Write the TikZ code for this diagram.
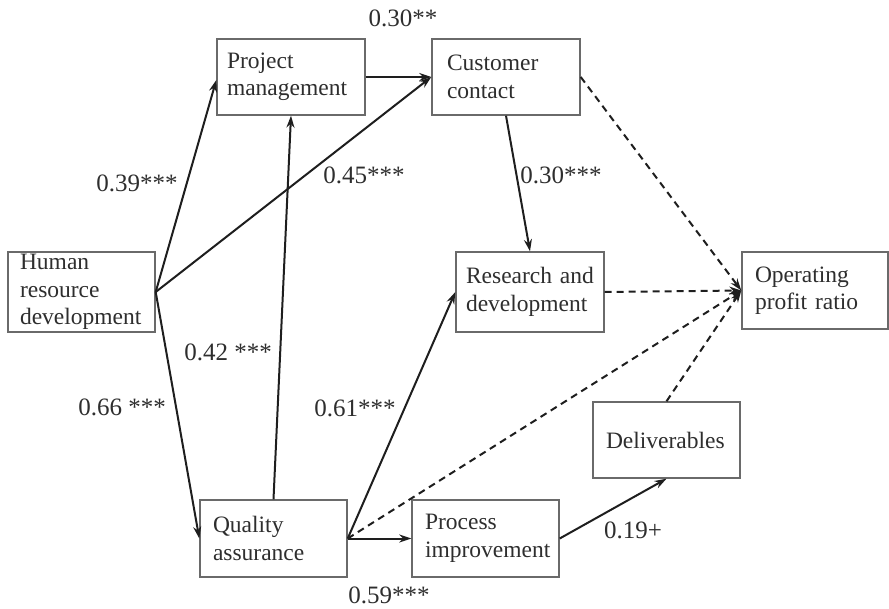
\documentclass[tikz,border=0pt]{standalone}
\usepackage{fontspec}
\setmainfont{Liberation Serif}
\usetikzlibrary{arrows.meta}
\definecolor{txt}{HTML}{2E2E2E}
\definecolor{frame}{HTML}{6A6A6A}
\definecolor{ln}{HTML}{1E1E1E}
\tikzset{
  box/.style={draw=frame, line width=1.4pt, rectangle, inner xsep=13pt, inner ysep=0pt,
    align=left, text=txt, font=\fontsize{23.5}{27.5}\selectfont, anchor=center},
  conn/.style={draw=ln, line width=2pt, -{Stealth[length=12pt,width=8pt]}},
  dconn/.style={draw=ln, line width=2pt, dash pattern=on 7pt off 5pt, -{Stealth[length=12pt,width=8pt]}},
  lab/.style={text=txt, font=\fontsize{25}{29}\selectfont, inner sep=0pt}
}
\begin{document}
\begin{tikzpicture}[x=1pt,y=-1pt]
\useasboundingbox (0,0) rectangle (889,609);
\node[box, minimum width=147pt, minimum height=80pt, text width=123pt, inner xsep=12pt] (hrd) at (81.5,292) {Human\\resource\\development};
\node[box, minimum width=148pt, minimum height=76pt, text width=128pt, inner xsep=10pt] (pm) at (291,77) {Project\\management};
\node[box, minimum width=148pt, minimum height=76pt, text width=118pt, inner xsep=15pt] (cc) at (506,77) {Customer\\contact};
\node[box, minimum width=148pt, minimum height=80pt, text width=128pt, inner xsep=10pt] (rd) at (530,292) {Research and\\development};
\node[box, minimum width=146pt, minimum height=77pt, text width=120pt] (opr) at (815,290.5) {Operating\\profit ratio};
\node[box, minimum width=147pt, minimum height=76pt, text width=121pt] (del) at (666.5,440) {Deliverables};
\node[box, minimum width=147pt, minimum height=77pt, text width=121pt] (qa) at (273.5,538.5) {Quality\\assurance};
\node[box, minimum width=147pt, minimum height=77pt, text width=121pt] (pi) at (485.5,538.5) {Process\\improvement};

\draw[conn] (hrd.east) -- ([yshift=-3pt]pm.west);
\draw[conn] (hrd.east) -- (cc.west);
\draw[conn] (pm.east) -- (cc.west);
\draw[conn] (hrd.east) -- (qa.west);
\draw[conn] (qa.north) -- (pm.south);
\draw[conn] (cc.south) -- (rd.north);
\draw[conn] (qa.east) -- (rd.west);
\draw[conn] (qa.east) -- (pi.west);
\draw[conn] (pi.east) -- (del.south);

\draw[dconn] (cc.east) -- (opr.west);
\draw[dconn] (rd.east) -- (opr.west);
\draw[dconn] (qa.east) -- (opr.west);
\draw[dconn] (del.north) -- (opr.west);

\node[lab] (l1) at (403,18) {0.30**};
\node[lab] (l2) at (137,183) {0.39***};
\node[lab] (l3) at (364,175) {0.45***};
\node[lab] (l4) at (561,175) {0.30***};
\node[lab] (l5) at (228,352) {0.42 ***};
\node[lab] (l6) at (122,407) {0.66 ***};
\node[lab] (l7) at (355,408) {0.61***};
\node[lab] (l8) at (633,530) {0.19+};
\node[lab] (l9) at (389,595) {0.59***};
\end{tikzpicture}
\end{document}
